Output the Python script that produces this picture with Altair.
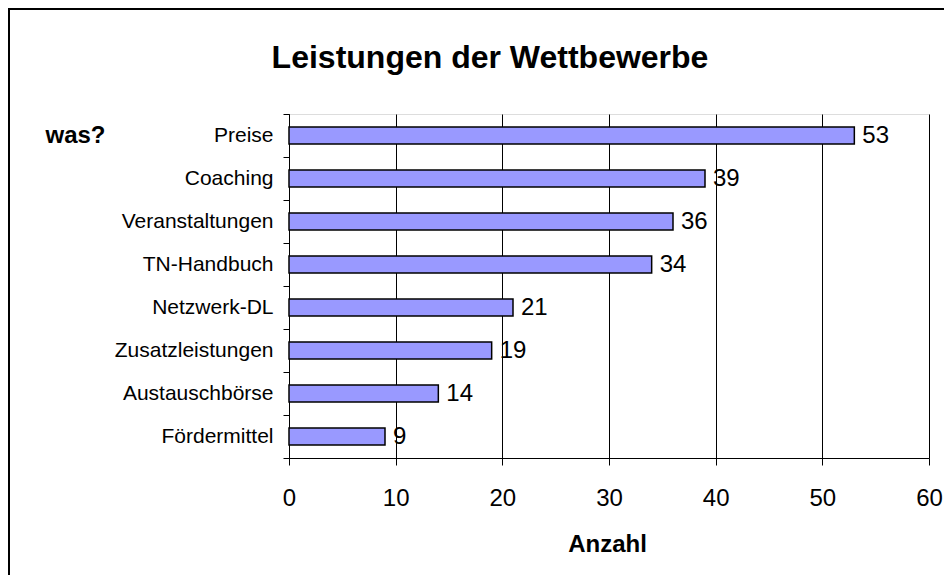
import altair as alt
import pandas as pd

categories = ["Preise", "Coaching", "Veranstaltungen", "TN-Handbuch",
              "Netzwerk-DL", "Zusatzleistungen", "Austauschbörse", "Fördermittel"]
values = [53, 39, 36, 34, 21, 19, 14, 9]
x_ticks = [0, 10, 20, 30, 40, 50, 60]
title_text = "Leistungen der Wettbewerbe"

df = pd.DataFrame({"was": categories, "anzahl": values})

FONT = "Liberation Sans, Arial, sans-serif"

x_enc = alt.X(
    "anzahl:Q",
    scale=alt.Scale(domain=[0, 60], nice=False, zero=True),
    axis=alt.Axis(
        values=x_ticks, title="Anzahl", grid=True, gridColor="#000000", gridWidth=1,
        gridOpacity=1, domainColor="#000000", domainWidth=1, tickColor="#000000",
        tickSize=7, labelPadding=40, labelBaseline="alphabetic", labelFontSize=24,
        labelFont=FONT, labelColor="#000000", titleFont=FONT, titleFontSize=24,
        titleFontWeight="bold", titleColor="#000000", titleX=318, titleY=93,
        titleBaseline="alphabetic", titleAlign="center", labelFlush=False,
    ),
)
y_enc = alt.Y(
    "was:N",
    sort=categories,
    scale=alt.Scale(paddingInner=0, paddingOuter=0),
    axis=alt.Axis(
        title="was?", titleAngle=0, titleAlign="left", titleBaseline="alphabetic",
        titleX=-244, titleY=28, titleFont=FONT, titleFontSize=24,
        titleFontWeight="bold", titleColor="#000000",
        tickBand="extent", tickSize=6, tickColor="#000000", domainColor="#000000",
        domainWidth=1, labelPadding=10, labelFontSize=21, labelFont=FONT,
        labelColor="#000000", grid=False,
    ),
)

bars = alt.Chart(df).mark_bar(
    color="#9999FF", stroke="#000000", strokeWidth=1.5, size=17
).encode(x=x_enc, y=y_enc)

labels = alt.Chart(df).mark_text(
    align="left", baseline="middle", dx=8, fontSize=24, font=FONT, color="#000000"
).encode(x="anzahl:Q", y=alt.Y("was:N", sort=categories), text="anzahl:Q")

title = alt.Chart(pd.DataFrame({"t": [title_text]})).mark_text(
    align="center", baseline="alphabetic", fontSize=32, fontWeight="bold",
    font=FONT, color="#000000"
).encode(x=alt.value(201), y=alt.value(-46), text="t:N")

frame_left = alt.Chart(df).mark_rule(color="#000000", strokeWidth=2).encode(
    x=alt.value(-280), y=alt.value(-105), y2=alt.value(470)
)
frame_top = alt.Chart(df).mark_rule(color="#000000", strokeWidth=2).encode(
    x=alt.value(-281), x2=alt.value(660), y=alt.value(-105)
)

chart = alt.layer(bars, labels, title, frame_left, frame_top).properties(
    width=640,
    height=344,
    autosize=alt.AutoSizeParams(type="none"),
    padding={"left": 281, "top": 106, "right": 15, "bottom": 117},
).configure_view(stroke=None).configure(background="#ffffff")

chart.save("out.html", embed_options={"renderer": "svg", "actions": False})
